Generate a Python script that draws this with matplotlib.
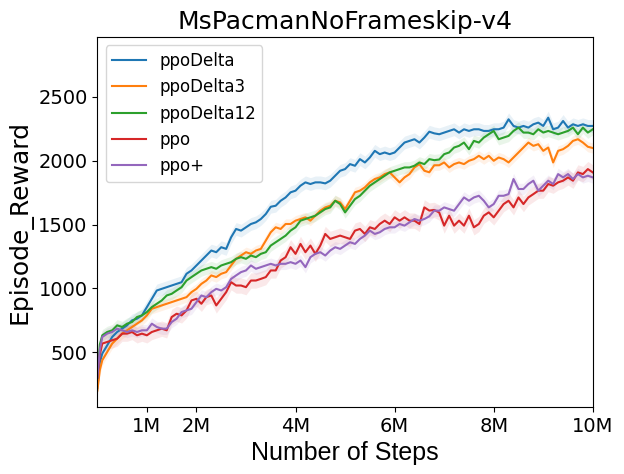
import matplotlib
matplotlib.use('Agg')
import matplotlib.pyplot as plt
import numpy as np

# steps in millions: 0, 0.05, then every 0.1M up to 10M
steps = [0, 0.05] + [round(0.1 * i, 1) for i in range(1, 101)]

ppo_delta = [220, 420,
             490, 555, 620, 659, 685, 711, 750, 763, 789, 854,
             919, 984, 997, 1010, 1023, 1036, 1049, 1115, 1141, 1180,
             1219, 1258, 1297, 1284, 1323, 1310, 1401, 1466, 1453, 1479,
             1505, 1518, 1544, 1583, 1640, 1648, 1687, 1713, 1753, 1766,
             1805, 1831, 1818, 1831, 1831, 1823, 1844, 1883, 1922, 1935,
             1974, 1961, 2013, 1987, 2026, 2078, 2052, 2065, 2052, 2065,
             2104, 2143, 2156, 2169, 2143, 2182, 2228, 2215, 2208, 2221,
             2234, 2247, 2221, 2247, 2234, 2247, 2247, 2234, 2234, 2247,
             2247, 2260, 2325, 2273, 2260, 2273, 2260, 2286, 2299, 2273,
             2338, 2247, 2260, 2312, 2260, 2286, 2273, 2286, 2273, 2273]
ppo_delta3 = [200, 360,
              438, 503, 568, 607, 646, 672, 698, 724, 750, 789,
              841, 854, 867, 880, 893, 906, 919, 932, 971, 997,
              1036, 1062, 1102, 1089, 1115, 1128, 1180, 1232, 1258, 1284,
              1271, 1297, 1310, 1375, 1440, 1479, 1466, 1505, 1505, 1531,
              1544, 1557, 1531, 1570, 1609, 1635, 1648, 1687, 1674, 1622,
              1687, 1753, 1766, 1792, 1831, 1857, 1870, 1896, 1909, 1870,
              1831, 1870, 1896, 1948, 1974, 1922, 1910, 1965, 1965, 1987,
              1948, 1974, 1987, 1974, 2000, 2013, 2039, 2013, 2039, 2000,
              2026, 2013, 1987, 2026, 2065, 2104, 2143, 2117, 2130, 2078,
              2104, 1987, 2078, 2091, 2117, 2156, 2169, 2143, 2110, 2100]
ppo_delta12 = [300, 560,
               633, 659, 672, 711, 698, 724, 737, 776, 789, 815,
               854, 880, 906, 945, 958, 984, 1010, 1062, 1089, 1115,
               1141, 1154, 1167, 1154, 1180, 1193, 1206, 1232, 1245, 1232,
               1258, 1245, 1271, 1284, 1336, 1362, 1388, 1414, 1453, 1479,
               1531, 1544, 1557, 1570, 1596, 1622, 1635, 1687, 1661, 1596,
               1648, 1700, 1726, 1766, 1805, 1831, 1857, 1883, 1909, 1922,
               1935, 1948, 1948, 1961, 1987, 1974, 2013, 2005, 2010, 2052,
               2065, 2104, 2117, 2143, 2091, 2156, 2143, 2182, 2208, 2234,
               2169, 2182, 2195, 2234, 2260, 2221, 2221, 2208, 2247, 2221,
               2234, 2221, 2208, 2221, 2234, 2260, 2208, 2260, 2221, 2247]
ppo = [300, 480,
       568, 581, 594, 607, 646, 646, 659, 633, 646, 633,
       659, 672, 685, 672, 776, 802, 789, 828, 906, 919,
       880, 932, 945, 867, 919, 971, 1049, 1023, 1023, 1010,
       1062, 1062, 1075, 1089, 1141, 1141, 1219, 1245, 1323, 1271,
       1349, 1284, 1336, 1271, 1336, 1427, 1388, 1401, 1414, 1401,
       1388, 1453, 1466, 1427, 1479, 1466, 1505, 1531, 1505, 1557,
       1531, 1557, 1531, 1531, 1505, 1635, 1610, 1615, 1595, 1492,
       1570, 1492, 1531, 1492, 1570, 1479, 1505, 1570, 1596, 1557,
       1609, 1661, 1687, 1635, 1713, 1661, 1713, 1739, 1766, 1766,
       1818, 1805, 1831, 1844, 1870, 1844, 1909, 1896, 1935, 1909]
ppo_plus = [300, 520,
            620, 646, 659, 685, 672, 659, 672, 659, 672, 672,
            724, 698, 685, 685, 737, 763, 815, 828, 841, 893,
            945, 932, 971, 997, 984, 1010, 1075, 1102, 1128, 1141,
            1180, 1154, 1167, 1180, 1193, 1180, 1193, 1193, 1206, 1193,
            1219, 1167, 1245, 1271, 1284, 1258, 1297, 1323, 1310, 1336,
            1362, 1349, 1388, 1414, 1453, 1427, 1440, 1466, 1479, 1479,
            1505, 1492, 1518, 1544, 1531, 1544, 1565, 1610, 1609, 1635,
            1622, 1609, 1661, 1713, 1687, 1713, 1726, 1687, 1635, 1661,
            1726, 1726, 1739, 1857, 1779, 1779, 1818, 1844, 1766, 1805,
            1844, 1818, 1896, 1870, 1896, 1857, 1896, 1870, 1883, 1870]

labels = ['ppoDelta', 'ppoDelta3', 'ppoDelta12', 'ppo', 'ppo+']
colors = ['#1f77b4', '#ff7f0e', '#2ca02c', '#d62728', '#9467bd']
spread = [50, 40, 45, 60, 45]

fig = plt.figure(figsize=(6.24, 4.74), dpi=100)
ax = fig.add_axes([0.156, 0.141, 0.794, 0.781])

x = np.array(steps) * 1e6
for vals, lab, col, sd in zip([ppo_delta, ppo_delta3, ppo_delta12, ppo, ppo_plus],
                              labels, colors, spread):
    vals = np.array(vals)
    ax.fill_between(x, vals - sd, vals + sd, color=col, alpha=0.1, linewidth=0)
    ax.plot(x, vals, color=col, label=lab, linewidth=1.5)

ax.set_xlim(0, 10e6)
ax.set_ylim(70, 2970)
ax.set_xticks([1e6, 2e6, 4e6, 6e6, 8e6, 10e6])
ax.set_xticklabels(['1M', '2M', '4M', '6M', '8M', '10M'])
ax.set_yticks([500, 1000, 1500, 2000, 2500])
ax.tick_params(labelsize=14)

ax.set_title('MsPacmanNoFrameskip-v4', fontsize=18)
ax.set_xlabel('Number of Steps', fontsize=18, family='Liberation Sans')
ax.set_ylabel('Episode_Reward', fontsize=18)
ax.legend(loc='upper left', fontsize=12)

fig.savefig('out.png', dpi=100)
